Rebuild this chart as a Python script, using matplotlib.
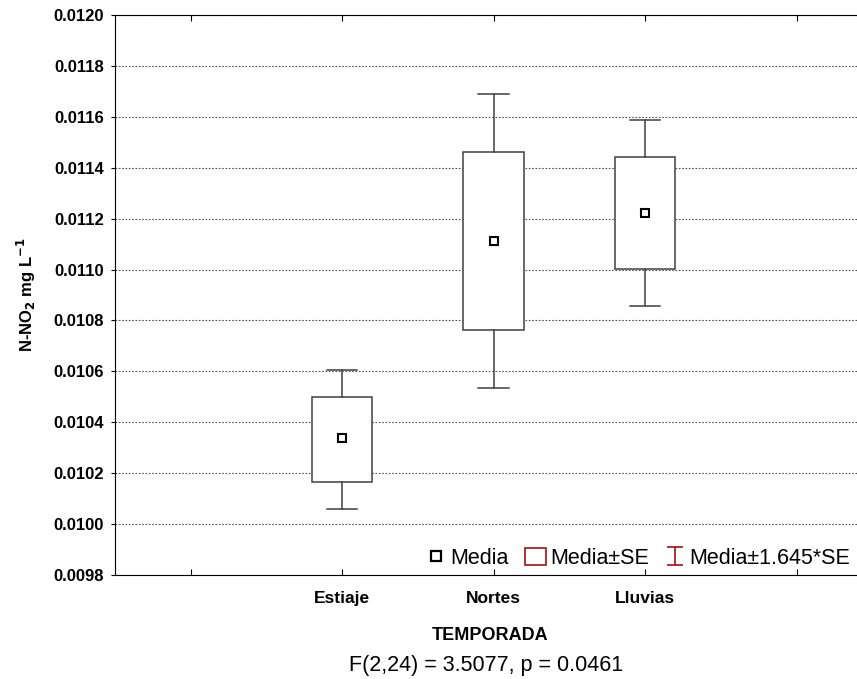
import matplotlib.pyplot as plt
import numpy as np
from matplotlib.lines import Line2D
from matplotlib.patches import Patch
from matplotlib.path import Path

plt.rcParams['font.family'] = ['Liberation Sans', 'DejaVu Sans']

# data
temporadas = ['Estiaje', 'Nortes', 'Lluvias']
media = [0.010337, 0.011114, 0.011224]
se_low = [0.010166, 0.010762, 0.011001]
se_high = [0.010499, 0.011463, 0.011444]
ci_low = [0.010059, 0.010533, 0.010858]
ci_high = [0.010607, 0.011689, 0.011588]
yticks = np.arange(0.0098, 0.01201, 0.0002)

fig = plt.figure(figsize=(8.57, 6.79), dpi=100)
ax = fig.add_axes([0.134, 0.153, 0.875, 0.825])

pos = np.arange(1, len(temporadas) + 1)
edge = '#404040'
for i, x in enumerate(pos):
    ax.add_patch(plt.Rectangle((x - 0.2, se_low[i]), 0.4, se_high[i] - se_low[i],
                               facecolor='white', edgecolor=edge, lw=1.1, zorder=3))
    ax.plot([x, x], [se_high[i], ci_high[i]], color=edge, lw=1.1, zorder=3)
    ax.plot([x, x], [ci_low[i], se_low[i]], color=edge, lw=1.1, zorder=3)
    ax.plot([x - 0.1, x + 0.1], [ci_high[i]] * 2, color=edge, lw=1.1, zorder=3)
    ax.plot([x - 0.1, x + 0.1], [ci_low[i]] * 2, color=edge, lw=1.1, zorder=3)
ax.plot(pos, media, 's', mfc='white', mec='black', mew=1.5, ms=6, zorder=4)

ax.set_xlim(-0.5, 4.45)
ax.set_ylim(0.0098, 0.0120)
ax.set_yticks(yticks)
ax.set_yticklabels([f'{v:.4f}' for v in yticks], fontweight='bold', fontsize=12)
ax.set_xticks(np.arange(0, 5))
ax.set_xticklabels([''] + temporadas + [''], fontweight='bold', fontsize=12.5)
ax.tick_params(axis='x', direction='in', top=True, length=4, pad=11.5)
ax.tick_params(axis='y', direction='out', length=3, pad=5)
ax.grid(axis='y', linestyle=(0, (1.5, 1.5)), color='#555555', lw=0.8)
ax.set_axisbelow(True)
ax.set_ylabel('N-NO$_\\mathbf{2}$ mg L$^{\\mathbf{-1}}$', fontweight='bold', fontsize=12, labelpad=11)
ax.set_xlabel('TEMPORADA', fontweight='bold', fontsize=13, labelpad=15)
ax.spines['right'].set_visible(False)

ibeam = Path([(-0.45, 0.5), (0.45, 0.5), (0, 0.5), (0, -0.5), (-0.45, -0.5), (0.45, -0.5)],
             [Path.MOVETO, Path.LINETO, Path.MOVETO, Path.LINETO, Path.MOVETO, Path.LINETO])
handles = [
    Line2D([], [], marker='s', ls='none', mfc='white', mec='black', mew=1.6, ms=7),
    Patch(facecolor='white', edgecolor='#a01010', lw=1.2),
    Line2D([], [], marker=ibeam, ls='none', color='#a01010', mec='#a01010', mew=1.2, ms=13),
]
ax.legend(handles, ['Media', 'Media±SE', 'Media±1.645*SE'], ncol=3, loc='lower right',
          bbox_to_anchor=(0.998, -0.012), frameon=False, fontsize=15.5,
          handlelength=0.95, handleheight=0.8, handletextpad=0.2, columnspacing=0.75,
          borderaxespad=0.2)

fig.text(0.567, 0.012, 'F(2,24) = 3.5077, p = 0.0461', ha='center', fontsize=15.5)

fig.savefig('out.png', dpi=100)
